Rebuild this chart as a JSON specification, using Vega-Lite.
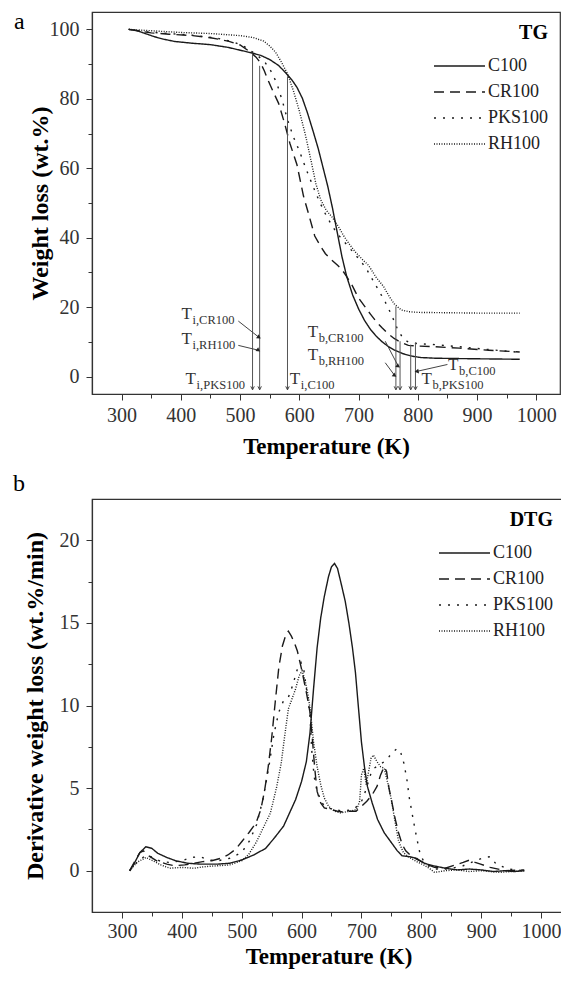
{
  "$schema": "https://vega.github.io/schema/vega-lite/v6.json",
  "padding": {"left": 12, "top": 9, "right": 0, "bottom": 0},
  "spacing": 12,
  "resolve": {"scale": {"strokeDash": "independent"}, "legend": {"strokeDash": "independent"}},
  "config": {
    "font": "Liberation Serif",
    "view": {"stroke": "#333", "strokeWidth": 1.2},
    "axis": {
      "grid": false,
      "domainColor": "#333",
      "domainWidth": 1.2,
      "tickColor": "#333",
      "labelFont": "Liberation Serif",
      "labelFontSize": 20,
      "labelColor": "#333",
      "titleFont": "Liberation Serif",
      "titleFontWeight": "bold",
      "titleColor": "#000"
    },
    "legend": {
      "orient": "top-right",
      "offset": 11,
      "padding": 0,
      "titleFont": "Liberation Serif",
      "titleFontSize": 20,
      "titleFontWeight": "bold",
      "titleColor": "#000",
      "titleAnchor": "end",
      "titleAlign": "right",
      "titlePadding": 12,
      "labelFont": "Liberation Serif",
      "labelFontSize": 18,
      "labelColor": "#222",
      "symbolType": "stroke",
      "symbolSize": 2600,
      "symbolStrokeWidth": 1.5,
      "symbolStrokeColor": "#1a1a1a",
      "clipHeight": 22,
      "rowPadding": 4,
      "labelOffset": 2
    },
    "title": {"font": "Liberation Serif", "fontSize": 24, "fontWeight": "normal", "color": "#000"}
  },
  "datasets": {
    "tg": [
      {"T": 312, "w": 100, "s": "C100"}, {"T": 325, "w": 99.7, "s": "C100"}, {"T": 340, "w": 98.8, "s": "C100"}, {"T": 355, "w": 97.9, "s": "C100"}, {"T": 370, "w": 97.2, "s": "C100"}, {"T": 390, "w": 96.5, "s": "C100"}, {"T": 420, "w": 96.0, "s": "C100"}, {"T": 450, "w": 95.6, "s": "C100"}, {"T": 480, "w": 94.8, "s": "C100"}, {"T": 500, "w": 94.0, "s": "C100"}, {"T": 520, "w": 93.2, "s": "C100"}, {"T": 535, "w": 92.5, "s": "C100"}, {"T": 550, "w": 91.3, "s": "C100"}, {"T": 565, "w": 89.6, "s": "C100"}, {"T": 578, "w": 87.3, "s": "C100"}, {"T": 588, "w": 85.3, "s": "C100"}, {"T": 596, "w": 83.3, "s": "C100"}, {"T": 605, "w": 80.2, "s": "C100"}, {"T": 614, "w": 75.8, "s": "C100"}, {"T": 623, "w": 70.8, "s": "C100"}, {"T": 632, "w": 65.6, "s": "C100"}, {"T": 640, "w": 60.2, "s": "C100"}, {"T": 648, "w": 54.8, "s": "C100"}, {"T": 656, "w": 48.5, "s": "C100"}, {"T": 664, "w": 41.5, "s": "C100"}, {"T": 672, "w": 34.5, "s": "C100"}, {"T": 680, "w": 28.8, "s": "C100"}, {"T": 690, "w": 23.5, "s": "C100"}, {"T": 700, "w": 19.5, "s": "C100"}, {"T": 710, "w": 16.2, "s": "C100"}, {"T": 720, "w": 13.6, "s": "C100"}, {"T": 730, "w": 11.6, "s": "C100"}, {"T": 740, "w": 10.0, "s": "C100"}, {"T": 750, "w": 8.7, "s": "C100"}, {"T": 760, "w": 7.7, "s": "C100"}, {"T": 775, "w": 6.6, "s": "C100"}, {"T": 790, "w": 5.9, "s": "C100"}, {"T": 805, "w": 5.5, "s": "C100"}, {"T": 830, "w": 5.3, "s": "C100"}, {"T": 870, "w": 5.2, "s": "C100"}, {"T": 920, "w": 5.1, "s": "C100"}, {"T": 972, "w": 5.0, "s": "C100"},
      {"T": 312, "w": 100, "s": "CR100"}, {"T": 330, "w": 99.5, "s": "CR100"}, {"T": 350, "w": 99.0, "s": "CR100"}, {"T": 380, "w": 98.6, "s": "CR100"}, {"T": 420, "w": 98.2, "s": "CR100"}, {"T": 450, "w": 97.6, "s": "CR100"}, {"T": 480, "w": 96.6, "s": "CR100"}, {"T": 500, "w": 95.5, "s": "CR100"}, {"T": 517, "w": 93.5, "s": "CR100"}, {"T": 527, "w": 92.0, "s": "CR100"}, {"T": 535, "w": 90.2, "s": "CR100"}, {"T": 541, "w": 88.0, "s": "CR100"}, {"T": 547, "w": 85.4, "s": "CR100"}, {"T": 556, "w": 82.0, "s": "CR100"}, {"T": 565, "w": 78.7, "s": "CR100"}, {"T": 575, "w": 73.0, "s": "CR100"}, {"T": 584, "w": 67.2, "s": "CR100"}, {"T": 596, "w": 61.0, "s": "CR100"}, {"T": 607, "w": 52.0, "s": "CR100"}, {"T": 617, "w": 46.0, "s": "CR100"}, {"T": 626, "w": 40.5, "s": "CR100"}, {"T": 635, "w": 37.8, "s": "CR100"}, {"T": 644, "w": 35.4, "s": "CR100"}, {"T": 655, "w": 33.5, "s": "CR100"}, {"T": 665, "w": 32.0, "s": "CR100"}, {"T": 672, "w": 30.8, "s": "CR100"}, {"T": 680, "w": 28.8, "s": "CR100"}, {"T": 690, "w": 26.0, "s": "CR100"}, {"T": 699, "w": 22.9, "s": "CR100"}, {"T": 710, "w": 20.3, "s": "CR100"}, {"T": 720, "w": 18.0, "s": "CR100"}, {"T": 730, "w": 15.8, "s": "CR100"}, {"T": 740, "w": 14.0, "s": "CR100"}, {"T": 750, "w": 12.3, "s": "CR100"}, {"T": 760, "w": 11.0, "s": "CR100"}, {"T": 770, "w": 10.0, "s": "CR100"}, {"T": 784, "w": 9.0, "s": "CR100"}, {"T": 800, "w": 8.8, "s": "CR100"}, {"T": 830, "w": 8.6, "s": "CR100"}, {"T": 870, "w": 8.2, "s": "CR100"}, {"T": 920, "w": 7.6, "s": "CR100"}, {"T": 972, "w": 7.1, "s": "CR100"},
      {"T": 312, "w": 100, "s": "PKS100"}, {"T": 340, "w": 99.3, "s": "PKS100"}, {"T": 380, "w": 98.8, "s": "PKS100"}, {"T": 420, "w": 98.3, "s": "PKS100"}, {"T": 460, "w": 97.5, "s": "PKS100"}, {"T": 490, "w": 96.3, "s": "PKS100"}, {"T": 510, "w": 94.8, "s": "PKS100"}, {"T": 525, "w": 93.0, "s": "PKS100"}, {"T": 540, "w": 91.0, "s": "PKS100"}, {"T": 552, "w": 88.0, "s": "PKS100"}, {"T": 562, "w": 84.5, "s": "PKS100"}, {"T": 572, "w": 79.0, "s": "PKS100"}, {"T": 580, "w": 74.0, "s": "PKS100"}, {"T": 590, "w": 69.0, "s": "PKS100"}, {"T": 600, "w": 65.0, "s": "PKS100"}, {"T": 612, "w": 59.5, "s": "PKS100"}, {"T": 625, "w": 54.0, "s": "PKS100"}, {"T": 635, "w": 50.0, "s": "PKS100"}, {"T": 645, "w": 46.5, "s": "PKS100"}, {"T": 655, "w": 43.5, "s": "PKS100"}, {"T": 665, "w": 41.0, "s": "PKS100"}, {"T": 675, "w": 39.0, "s": "PKS100"}, {"T": 685, "w": 37.0, "s": "PKS100"}, {"T": 695, "w": 35.0, "s": "PKS100"}, {"T": 705, "w": 33.0, "s": "PKS100"}, {"T": 715, "w": 30.5, "s": "PKS100"}, {"T": 725, "w": 27.5, "s": "PKS100"}, {"T": 735, "w": 24.5, "s": "PKS100"}, {"T": 745, "w": 21.5, "s": "PKS100"}, {"T": 755, "w": 18.0, "s": "PKS100"}, {"T": 765, "w": 14.0, "s": "PKS100"}, {"T": 775, "w": 11.0, "s": "PKS100"}, {"T": 785, "w": 9.8, "s": "PKS100"}, {"T": 800, "w": 9.5, "s": "PKS100"}, {"T": 830, "w": 9.2, "s": "PKS100"}, {"T": 870, "w": 8.6, "s": "PKS100"}, {"T": 920, "w": 7.8, "s": "PKS100"}, {"T": 972, "w": 7.0, "s": "PKS100"},
      {"T": 312, "w": 100, "s": "RH100"}, {"T": 350, "w": 99.6, "s": "RH100"}, {"T": 400, "w": 99.1, "s": "RH100"}, {"T": 450, "w": 98.8, "s": "RH100"}, {"T": 500, "w": 98.2, "s": "RH100"}, {"T": 523, "w": 97.6, "s": "RH100"}, {"T": 540, "w": 96.6, "s": "RH100"}, {"T": 550, "w": 95.2, "s": "RH100"}, {"T": 560, "w": 93.4, "s": "RH100"}, {"T": 570, "w": 90.5, "s": "RH100"}, {"T": 580, "w": 87.2, "s": "RH100"}, {"T": 590, "w": 82.3, "s": "RH100"}, {"T": 600, "w": 76.5, "s": "RH100"}, {"T": 610, "w": 69.8, "s": "RH100"}, {"T": 620, "w": 62.0, "s": "RH100"}, {"T": 628, "w": 55.5, "s": "RH100"}, {"T": 636, "w": 51.0, "s": "RH100"}, {"T": 645, "w": 48.0, "s": "RH100"}, {"T": 655, "w": 46.0, "s": "RH100"}, {"T": 665, "w": 43.5, "s": "RH100"}, {"T": 675, "w": 40.5, "s": "RH100"}, {"T": 685, "w": 38.0, "s": "RH100"}, {"T": 695, "w": 35.8, "s": "RH100"}, {"T": 705, "w": 34.0, "s": "RH100"}, {"T": 717, "w": 32.0, "s": "RH100"}, {"T": 730, "w": 28.5, "s": "RH100"}, {"T": 742, "w": 26.0, "s": "RH100"}, {"T": 752, "w": 23.0, "s": "RH100"}, {"T": 760, "w": 21.0, "s": "RH100"}, {"T": 765, "w": 20.2, "s": "RH100"}, {"T": 772, "w": 19.2, "s": "RH100"}, {"T": 785, "w": 18.7, "s": "RH100"}, {"T": 800, "w": 18.5, "s": "RH100"}, {"T": 850, "w": 18.4, "s": "RH100"}, {"T": 900, "w": 18.3, "s": "RH100"}, {"T": 972, "w": 18.3, "s": "RH100"}
    ],
    "dtg": [
      {"T": 313, "v": 0, "s": "C100"}, {"T": 320, "v": 0.4, "s": "C100"}, {"T": 330, "v": 1.1, "s": "C100"}, {"T": 340, "v": 1.45, "s": "C100"}, {"T": 350, "v": 1.35, "s": "C100"}, {"T": 360, "v": 1.05, "s": "C100"}, {"T": 375, "v": 0.8, "s": "C100"}, {"T": 390, "v": 0.6, "s": "C100"}, {"T": 410, "v": 0.45, "s": "C100"}, {"T": 430, "v": 0.4, "s": "C100"}, {"T": 460, "v": 0.4, "s": "C100"}, {"T": 480, "v": 0.45, "s": "C100"}, {"T": 500, "v": 0.65, "s": "C100"}, {"T": 520, "v": 0.95, "s": "C100"}, {"T": 540, "v": 1.35, "s": "C100"}, {"T": 555, "v": 2.0, "s": "C100"}, {"T": 570, "v": 2.7, "s": "C100"}, {"T": 580, "v": 3.5, "s": "C100"}, {"T": 590, "v": 4.3, "s": "C100"}, {"T": 600, "v": 5.4, "s": "C100"}, {"T": 608, "v": 6.6, "s": "C100"}, {"T": 614, "v": 8.3, "s": "C100"}, {"T": 620, "v": 11.0, "s": "C100"}, {"T": 626, "v": 13.5, "s": "C100"}, {"T": 632, "v": 15.3, "s": "C100"}, {"T": 638, "v": 16.6, "s": "C100"}, {"T": 645, "v": 17.8, "s": "C100"}, {"T": 650, "v": 18.4, "s": "C100"}, {"T": 655, "v": 18.6, "s": "C100"}, {"T": 660, "v": 18.3, "s": "C100"}, {"T": 666, "v": 17.4, "s": "C100"}, {"T": 673, "v": 16.3, "s": "C100"}, {"T": 679, "v": 15.0, "s": "C100"}, {"T": 685, "v": 13.5, "s": "C100"}, {"T": 690, "v": 12.0, "s": "C100"}, {"T": 694, "v": 10.3, "s": "C100"}, {"T": 700, "v": 7.8, "s": "C100"}, {"T": 705, "v": 6.3, "s": "C100"}, {"T": 710, "v": 5.1, "s": "C100"}, {"T": 718, "v": 4.1, "s": "C100"}, {"T": 727, "v": 3.1, "s": "C100"}, {"T": 738, "v": 2.3, "s": "C100"}, {"T": 750, "v": 1.7, "s": "C100"}, {"T": 760, "v": 1.2, "s": "C100"}, {"T": 768, "v": 0.9, "s": "C100"}, {"T": 780, "v": 0.85, "s": "C100"}, {"T": 792, "v": 0.75, "s": "C100"}, {"T": 805, "v": 0.45, "s": "C100"}, {"T": 820, "v": 0.3, "s": "C100"}, {"T": 840, "v": 0.15, "s": "C100"}, {"T": 860, "v": 0.05, "s": "C100"}, {"T": 880, "v": 0.1, "s": "C100"}, {"T": 900, "v": 0.05, "s": "C100"}, {"T": 920, "v": -0.05, "s": "C100"}, {"T": 940, "v": 0.0, "s": "C100"}, {"T": 955, "v": -0.05, "s": "C100"}, {"T": 972, "v": 0.0, "s": "C100"},
      {"T": 313, "v": 0, "s": "CR100"}, {"T": 322, "v": 0.6, "s": "CR100"}, {"T": 330, "v": 1.1, "s": "CR100"}, {"T": 336, "v": 1.2, "s": "CR100"}, {"T": 345, "v": 0.9, "s": "CR100"}, {"T": 358, "v": 0.6, "s": "CR100"}, {"T": 375, "v": 0.4, "s": "CR100"}, {"T": 388, "v": 0.3, "s": "CR100"}, {"T": 405, "v": 0.35, "s": "CR100"}, {"T": 420, "v": 0.45, "s": "CR100"}, {"T": 435, "v": 0.55, "s": "CR100"}, {"T": 450, "v": 0.6, "s": "CR100"}, {"T": 465, "v": 0.75, "s": "CR100"}, {"T": 477, "v": 0.95, "s": "CR100"}, {"T": 490, "v": 1.3, "s": "CR100"}, {"T": 501, "v": 1.8, "s": "CR100"}, {"T": 512, "v": 2.3, "s": "CR100"}, {"T": 524, "v": 2.9, "s": "CR100"}, {"T": 532, "v": 3.7, "s": "CR100"}, {"T": 538, "v": 4.8, "s": "CR100"}, {"T": 544, "v": 6.2, "s": "CR100"}, {"T": 550, "v": 8.0, "s": "CR100"}, {"T": 556, "v": 10.2, "s": "CR100"}, {"T": 562, "v": 12.3, "s": "CR100"}, {"T": 568, "v": 13.6, "s": "CR100"}, {"T": 574, "v": 14.3, "s": "CR100"}, {"T": 578, "v": 14.5, "s": "CR100"}, {"T": 583, "v": 14.2, "s": "CR100"}, {"T": 588, "v": 13.8, "s": "CR100"}, {"T": 593, "v": 13.3, "s": "CR100"}, {"T": 600, "v": 12.2, "s": "CR100"}, {"T": 608, "v": 10.8, "s": "CR100"}, {"T": 614, "v": 9.6, "s": "CR100"}, {"T": 618, "v": 8.0, "s": "CR100"}, {"T": 622, "v": 6.2, "s": "CR100"}, {"T": 626, "v": 4.8, "s": "CR100"}, {"T": 632, "v": 4.1, "s": "CR100"}, {"T": 638, "v": 3.8, "s": "CR100"}, {"T": 650, "v": 3.7, "s": "CR100"}, {"T": 660, "v": 3.6, "s": "CR100"}, {"T": 670, "v": 3.55, "s": "CR100"}, {"T": 680, "v": 3.6, "s": "CR100"}, {"T": 691, "v": 3.6, "s": "CR100"}, {"T": 700, "v": 3.9, "s": "CR100"}, {"T": 709, "v": 4.2, "s": "CR100"}, {"T": 718, "v": 4.6, "s": "CR100"}, {"T": 726, "v": 5.1, "s": "CR100"}, {"T": 732, "v": 5.8, "s": "CR100"}, {"T": 738, "v": 6.3, "s": "CR100"}, {"T": 742, "v": 6.0, "s": "CR100"}, {"T": 746, "v": 5.0, "s": "CR100"}, {"T": 750, "v": 4.3, "s": "CR100"}, {"T": 756, "v": 3.2, "s": "CR100"}, {"T": 762, "v": 2.3, "s": "CR100"}, {"T": 768, "v": 1.6, "s": "CR100"}, {"T": 774, "v": 1.2, "s": "CR100"}, {"T": 783, "v": 0.9, "s": "CR100"}, {"T": 792, "v": 0.7, "s": "CR100"}, {"T": 805, "v": 0.45, "s": "CR100"}, {"T": 822, "v": 0.2, "s": "CR100"}, {"T": 840, "v": 0.15, "s": "CR100"}, {"T": 857, "v": 0.35, "s": "CR100"}, {"T": 870, "v": 0.5, "s": "CR100"}, {"T": 881, "v": 0.65, "s": "CR100"}, {"T": 890, "v": 0.5, "s": "CR100"}, {"T": 899, "v": 0.4, "s": "CR100"}, {"T": 915, "v": 0.2, "s": "CR100"}, {"T": 940, "v": 0.0, "s": "CR100"}, {"T": 972, "v": 0.05, "s": "CR100"},
      {"T": 313, "v": 0, "s": "PKS100"}, {"T": 325, "v": 0.5, "s": "PKS100"}, {"T": 340, "v": 0.95, "s": "PKS100"}, {"T": 352, "v": 0.8, "s": "PKS100"}, {"T": 365, "v": 0.55, "s": "PKS100"}, {"T": 380, "v": 0.5, "s": "PKS100"}, {"T": 400, "v": 0.6, "s": "PKS100"}, {"T": 415, "v": 0.8, "s": "PKS100"}, {"T": 430, "v": 0.85, "s": "PKS100"}, {"T": 445, "v": 0.65, "s": "PKS100"}, {"T": 460, "v": 0.6, "s": "PKS100"}, {"T": 480, "v": 0.75, "s": "PKS100"}, {"T": 500, "v": 1.1, "s": "PKS100"}, {"T": 513, "v": 1.8, "s": "PKS100"}, {"T": 525, "v": 2.8, "s": "PKS100"}, {"T": 536, "v": 4.4, "s": "PKS100"}, {"T": 545, "v": 6.2, "s": "PKS100"}, {"T": 554, "v": 8.3, "s": "PKS100"}, {"T": 562, "v": 9.6, "s": "PKS100"}, {"T": 570, "v": 10.3, "s": "PKS100"}, {"T": 578, "v": 10.5, "s": "PKS100"}, {"T": 585, "v": 11.2, "s": "PKS100"}, {"T": 593, "v": 12.2, "s": "PKS100"}, {"T": 599, "v": 12.6, "s": "PKS100"}, {"T": 604, "v": 12.1, "s": "PKS100"}, {"T": 609, "v": 10.8, "s": "PKS100"}, {"T": 614, "v": 9.5, "s": "PKS100"}, {"T": 617, "v": 7.3, "s": "PKS100"}, {"T": 621, "v": 5.7, "s": "PKS100"}, {"T": 626, "v": 4.8, "s": "PKS100"}, {"T": 634, "v": 4.1, "s": "PKS100"}, {"T": 643, "v": 3.8, "s": "PKS100"}, {"T": 655, "v": 3.7, "s": "PKS100"}, {"T": 670, "v": 3.6, "s": "PKS100"}, {"T": 685, "v": 3.7, "s": "PKS100"}, {"T": 697, "v": 4.0, "s": "PKS100"}, {"T": 703, "v": 4.4, "s": "PKS100"}, {"T": 710, "v": 5.2, "s": "PKS100"}, {"T": 716, "v": 5.9, "s": "PKS100"}, {"T": 721, "v": 6.2, "s": "PKS100"}, {"T": 730, "v": 6.4, "s": "PKS100"}, {"T": 738, "v": 6.6, "s": "PKS100"}, {"T": 746, "v": 6.9, "s": "PKS100"}, {"T": 753, "v": 7.2, "s": "PKS100"}, {"T": 760, "v": 7.4, "s": "PKS100"}, {"T": 766, "v": 7.1, "s": "PKS100"}, {"T": 771, "v": 6.5, "s": "PKS100"}, {"T": 776, "v": 5.5, "s": "PKS100"}, {"T": 780, "v": 4.4, "s": "PKS100"}, {"T": 785, "v": 3.4, "s": "PKS100"}, {"T": 789, "v": 2.6, "s": "PKS100"}, {"T": 794, "v": 1.7, "s": "PKS100"}, {"T": 798, "v": 1.0, "s": "PKS100"}, {"T": 805, "v": 0.5, "s": "PKS100"}, {"T": 815, "v": 0.2, "s": "PKS100"}, {"T": 822, "v": 0.1, "s": "PKS100"}, {"T": 845, "v": 0.1, "s": "PKS100"}, {"T": 870, "v": 0.3, "s": "PKS100"}, {"T": 890, "v": 0.6, "s": "PKS100"}, {"T": 905, "v": 0.8, "s": "PKS100"}, {"T": 915, "v": 0.85, "s": "PKS100"}, {"T": 925, "v": 0.4, "s": "PKS100"}, {"T": 945, "v": 0.1, "s": "PKS100"}, {"T": 972, "v": 0.0, "s": "PKS100"},
      {"T": 313, "v": 0, "s": "RH100"}, {"T": 325, "v": 0.5, "s": "RH100"}, {"T": 340, "v": 0.8, "s": "RH100"}, {"T": 352, "v": 0.6, "s": "RH100"}, {"T": 365, "v": 0.35, "s": "RH100"}, {"T": 380, "v": 0.15, "s": "RH100"}, {"T": 400, "v": 0.2, "s": "RH100"}, {"T": 420, "v": 0.15, "s": "RH100"}, {"T": 440, "v": 0.25, "s": "RH100"}, {"T": 460, "v": 0.3, "s": "RH100"}, {"T": 480, "v": 0.35, "s": "RH100"}, {"T": 500, "v": 0.6, "s": "RH100"}, {"T": 512, "v": 1.0, "s": "RH100"}, {"T": 524, "v": 1.7, "s": "RH100"}, {"T": 536, "v": 2.6, "s": "RH100"}, {"T": 548, "v": 3.5, "s": "RH100"}, {"T": 558, "v": 5.0, "s": "RH100"}, {"T": 566, "v": 6.5, "s": "RH100"}, {"T": 572, "v": 8.2, "s": "RH100"}, {"T": 578, "v": 9.8, "s": "RH100"}, {"T": 584, "v": 10.4, "s": "RH100"}, {"T": 590, "v": 11.0, "s": "RH100"}, {"T": 596, "v": 11.8, "s": "RH100"}, {"T": 601, "v": 12.1, "s": "RH100"}, {"T": 606, "v": 11.5, "s": "RH100"}, {"T": 611, "v": 10.6, "s": "RH100"}, {"T": 615, "v": 9.6, "s": "RH100"}, {"T": 620, "v": 7.8, "s": "RH100"}, {"T": 626, "v": 6.3, "s": "RH100"}, {"T": 632, "v": 5.2, "s": "RH100"}, {"T": 638, "v": 4.4, "s": "RH100"}, {"T": 645, "v": 3.9, "s": "RH100"}, {"T": 655, "v": 3.6, "s": "RH100"}, {"T": 665, "v": 3.5, "s": "RH100"}, {"T": 680, "v": 3.6, "s": "RH100"}, {"T": 692, "v": 3.7, "s": "RH100"}, {"T": 697, "v": 4.2, "s": "RH100"}, {"T": 700, "v": 5.8, "s": "RH100"}, {"T": 704, "v": 6.2, "s": "RH100"}, {"T": 708, "v": 5.2, "s": "RH100"}, {"T": 712, "v": 6.0, "s": "RH100"}, {"T": 716, "v": 6.8, "s": "RH100"}, {"T": 720, "v": 7.0, "s": "RH100"}, {"T": 726, "v": 6.6, "s": "RH100"}, {"T": 732, "v": 6.3, "s": "RH100"}, {"T": 738, "v": 6.2, "s": "RH100"}, {"T": 744, "v": 5.3, "s": "RH100"}, {"T": 750, "v": 4.3, "s": "RH100"}, {"T": 756, "v": 3.0, "s": "RH100"}, {"T": 762, "v": 1.8, "s": "RH100"}, {"T": 770, "v": 1.1, "s": "RH100"}, {"T": 780, "v": 0.8, "s": "RH100"}, {"T": 792, "v": 0.55, "s": "RH100"}, {"T": 804, "v": 0.35, "s": "RH100"}, {"T": 815, "v": 0.1, "s": "RH100"}, {"T": 822, "v": -0.1, "s": "RH100"}, {"T": 840, "v": 0.0, "s": "RH100"}, {"T": 860, "v": 0.05, "s": "RH100"}, {"T": 880, "v": -0.05, "s": "RH100"}, {"T": 900, "v": 0.0, "s": "RH100"}, {"T": 930, "v": -0.1, "s": "RH100"}, {"T": 972, "v": 0.0, "s": "RH100"}
    ],
    "marks": [
      {"T": 521, "y1": -3.8, "y2": 93.0}, {"T": 533, "y1": -3.8, "y2": 89.5}, {"T": 580, "y1": -3.8, "y2": 86.5},
      {"T": 763, "y1": -3.8, "y2": 20.2}, {"T": 770, "y1": -3.8, "y2": 10.2}, {"T": 788, "y1": -3.8, "y2": 9.2}, {"T": 796, "y1": -3.8, "y2": 9.8}
    ],
    "arrowsR": [
      {"x": 497, "y": 16.0, "x2": 532, "y2": 11.3},
      {"x": 497, "y": 9.0, "x2": 531, "y2": 7.6},
      {"x": 745, "y": 10.2, "x2": 767, "y2": 3.0},
      {"x": 745, "y": 4.0, "x2": 761, "y2": 0.3}
    ],
    "arrowsL": [
      {"x": 850, "y": 3.5, "x2": 798, "y2": 1.5}
    ],
    "labels": [
      {"T": 401, "w": 18.1, "sub": "i,CR100"},
      {"T": 401, "w": 10.9, "sub": "i,RH100"},
      {"T": 408, "w": -0.6, "sub": "i,PKS100"},
      {"T": 584, "w": -0.6, "sub": "i,C100"},
      {"T": 614, "w": 12.9, "sub": "b,CR100"},
      {"T": 614, "w": 6.2, "sub": "b,RH100"},
      {"T": 851, "w": 3.4, "sub": "b,C100"},
      {"T": 806, "w": -0.6, "sub": "b,PKS100"}
    ]
  },
  "vconcat": [
    {
      "width": 468,
      "height": 382,
      "title": {"text": "a", "anchor": "start", "frame": "bounds", "dx": -14, "dy": 26},
      "encoding": {
        "x": {"type": "quantitative", "scale": {"domain": [250, 1040], "nice": false, "zero": false},
              "axis": {"title": "Temperature (K)", "titleFontSize": 23, "values": [300, 350, 400, 450, 500, 550, 600, 650, 700, 750, 800, 850, 900, 950, 1000],
                       "labelExpr": "datum.value % 100 === 0 ? datum.label : ''", "format": "d",
                       "tickSize": {"condition": {"test": "datum.value % 100 === 0", "value": 6}, "value": 4},
                       "labelPadding": 5, "titlePadding": 10, "labelFlush": false, "labelOverlap": false}},
        "y": {"type": "quantitative", "scale": {"domain": [-5, 105], "nice": false, "zero": false},
              "axis": {"title": "Weight loss (wt.%)", "titleFontSize": 24, "values": [0, 10, 20, 30, 40, 50, 60, 70, 80, 90, 100],
                       "labelExpr": "datum.value % 20 === 0 ? datum.label : ''",
                       "tickSize": {"condition": {"test": "datum.value % 20 === 0", "value": 6}, "value": 4},
                       "labelPadding": 7, "titlePadding": -3, "labelFlush": false, "labelOverlap": false}}
      },
      "layer": [
        {
          "data": {"name": "tg"},
          "mark": {"type": "line", "strokeWidth": 1.4, "color": "#1a1a1a"},
          "encoding": {
            "x": {"field": "T", "type": "quantitative"},
            "y": {"field": "w", "type": "quantitative"},
            "strokeDash": {"field": "s", "type": "nominal",
              "scale": {"domain": ["C100", "CR100", "PKS100", "RH100"], "range": [[1, 0], [10, 6], [2, 7], [1, 1.5]]},
              "legend": {"title": "TG", "orient": "top-right"}}
          }
        },
        {
          "data": {"name": "marks"},
          "mark": {"type": "rule", "color": "#555", "strokeWidth": 1},
          "encoding": {
            "x": {"field": "T", "type": "quantitative"},
            "y": {"field": "y1", "type": "quantitative"},
            "y2": {"field": "y2"}
          }
        },
        {
          "data": {"name": "marks"},
          "mark": {"type": "point", "shape": "M-1,-2L0,0L1,-2", "filled": false, "size": 12, "color": "#444", "strokeWidth": 1, "opacity": 1},
          "encoding": {
            "x": {"field": "T", "type": "quantitative"},
            "y": {"field": "y1", "type": "quantitative"}
          }
        },
        {
          "data": {"name": "arrowsR"},
          "mark": {"type": "rule", "color": "#444", "strokeWidth": 1},
          "encoding": {
            "x": {"field": "x", "type": "quantitative"},
            "y": {"field": "y", "type": "quantitative"},
            "x2": {"field": "x2"},
            "y2": {"field": "y2"}
          }
        },
        {
          "data": {"name": "arrowsL"},
          "mark": {"type": "rule", "color": "#444", "strokeWidth": 1},
          "encoding": {
            "x": {"field": "x", "type": "quantitative"},
            "y": {"field": "y", "type": "quantitative"},
            "x2": {"field": "x2"},
            "y2": {"field": "y2"}
          }
        },
        {
          "data": {"name": "arrowsR"},
          "mark": {"type": "point", "shape": "triangle-right", "filled": true, "size": 22, "color": "#222", "angle": 35, "opacity": 1},
          "encoding": {
            "x": {"field": "x2", "type": "quantitative"},
            "y": {"field": "y2", "type": "quantitative"}
          }
        },
        {
          "data": {"name": "arrowsL"},
          "mark": {"type": "point", "shape": "triangle-left", "filled": true, "size": 22, "color": "#222", "angle": -10, "opacity": 1},
          "encoding": {
            "x": {"field": "x2", "type": "quantitative"},
            "y": {"field": "y2", "type": "quantitative"}
          }
        },
        {
          "data": {"name": "labels"},
          "mark": {"type": "text", "text": "T", "align": "left", "baseline": "middle", "fontSize": 17, "color": "#333", "font": "Liberation Serif"},
          "encoding": {
            "x": {"field": "T", "type": "quantitative"},
            "y": {"field": "w", "type": "quantitative"}
          }
        },
        {
          "data": {"name": "labels"},
          "mark": {"type": "text", "align": "left", "baseline": "middle", "fontSize": 12.5, "color": "#333", "font": "Liberation Serif", "dx": 11, "dy": 6},
          "encoding": {
            "x": {"field": "T", "type": "quantitative"},
            "y": {"field": "w", "type": "quantitative"},
            "text": {"field": "sub"}
          }
        }
      ]
    },
    {
      "width": 473,
      "height": 413,
      "title": {"text": "b", "anchor": "start", "frame": "bounds", "dx": -10, "offset": 3},
      "data": {"name": "dtg"},
      "mark": {"type": "line", "strokeWidth": 1.4, "color": "#1a1a1a"},
      "encoding": {
        "x": {"field": "T", "type": "quantitative", "scale": {"domain": [250, 1040], "nice": false, "zero": false},
              "axis": {"title": "Temperature (K)", "titleFontSize": 23, "values": [300, 350, 400, 450, 500, 550, 600, 650, 700, 750, 800, 850, 900, 950, 1000],
                       "labelExpr": "datum.value % 100 === 0 ? datum.label : ''", "format": "d",
                       "tickSize": {"condition": {"test": "datum.value % 100 === 0", "value": 6}, "value": 4},
                       "labelPadding": 3, "titlePadding": 4, "labelFlush": false, "labelOverlap": false}},
        "y": {"field": "v", "type": "quantitative", "scale": {"domain": [-2.5, 22.5], "nice": false, "zero": false},
              "axis": {"title": "Derivative weight loss (wt.%/min)", "titleFontSize": 24, "values": [0, 2.5, 5, 7.5, 10, 12.5, 15, 17.5, 20],
                       "labelExpr": "datum.value % 5 === 0 ? datum.label : ''",
                       "tickSize": {"condition": {"test": "datum.value % 5 === 0", "value": 6}, "value": 4},
                       "labelPadding": 7, "titlePadding": 12, "labelFlush": false, "labelOverlap": false}},
        "strokeDash": {"field": "s", "type": "nominal",
          "scale": {"domain": ["C100", "CR100", "PKS100", "RH100"], "range": [[1, 0], [10, 6], [2, 7], [1, 1.5]]},
          "legend": {"title": "DTG", "orient": "top-right"}}
      }
    }
  ]
}
